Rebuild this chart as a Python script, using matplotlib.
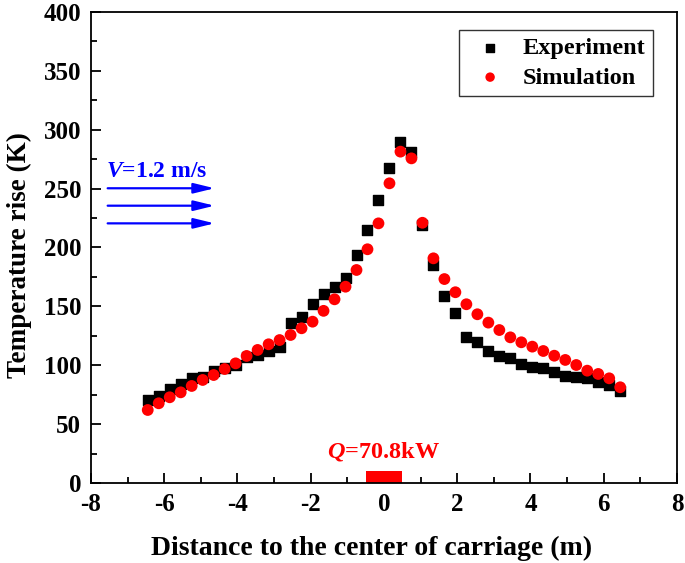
import matplotlib
matplotlib.use("Agg")
from matplotlib import pyplot as plt
from matplotlib.ticker import MultipleLocator

# distance to center of carriage (m)
distancia = [-6.45, -6.15, -5.85, -5.55, -5.25, -4.95, -4.65, -4.35, -4.05, -3.75, -3.45,
             -3.15, -2.85, -2.55, -2.25, -1.95, -1.65, -1.35, -1.05, -0.75, -0.45, -0.15,
             0.15, 0.45, 0.75, 1.05, 1.35, 1.65, 1.95, 2.25, 2.55, 2.85, 3.15, 3.45,
             3.75, 4.05, 4.35, 4.65, 4.95, 5.25, 5.55, 5.85, 6.15, 6.45]

experimento = [70.5, 73.9, 79.6, 84.1, 88.9, 90.3, 95.4, 97.4, 100.2, 107.3, 108.7,
               112.4, 115.8, 135.6, 140.7, 152.0, 160.5, 166.2, 173.8, 193.6, 214.9, 240.3,
               267.3, 289.9, 281.4, 219.1, 185.1, 158.6, 144.3, 124.2, 120.0, 112.4, 108.1, 106.4,
               101.1, 98.8, 97.4, 94.5, 91.1, 89.8, 88.9, 86.0, 83.2, 78.4]

simulacao = [62.0, 67.7, 72.8, 77.0, 82.4, 87.5, 91.7, 96.8, 101.6, 107.9, 113.0,
             117.8, 121.4, 125.7, 131.4, 137.0, 146.2, 156.0, 166.7, 180.9, 198.5, 220.5,
             254.5, 281.4, 275.7, 221.0, 190.8, 173.2, 162.0, 151.8, 143.3, 136.2, 129.9, 123.7,
             119.5, 115.8, 112.1, 108.1, 104.5, 100.2, 95.4, 92.6, 88.9, 81.3]

# fire source extent and height of the red block
fonte_x = [-0.5, 0.5]
fonte_altura = 10.5

# air-flow arrows
setas_y = [250.3, 235.5, 220.5]

plt.rcParams['font.family'] = ['Liberation Serif', 'DejaVu Serif']
plt.rcParams['font.weight'] = 'bold'
plt.rcParams['axes.unicode_minus'] = False
plt.rcParams['mathtext.fontset'] = 'custom'
plt.rcParams['mathtext.it'] = 'Liberation Serif:italic:bold'
plt.rcParams['mathtext.rm'] = 'Liberation Serif:bold'

fig = plt.figure(figsize=(6.85, 5.63), dpi=100)
ax = fig.add_axes([0.1328, 0.1421, 0.8555, 0.8366])

ax.scatter(distancia, experimento, marker='s', s=62, color='black', label='Experiment', zorder=3)
ax.scatter(distancia, simulacao, marker='o', s=72, color='red', edgecolors='none', label='Simulation', zorder=4)

ax.fill_between(fonte_x, 0, fonte_altura, color='red', linewidth=0, zorder=2)
ax.text(0, 17, r'$Q$=70.8kW', color='red', fontsize=17.5, ha='center', va='bottom', fontweight='bold')

for y in setas_y:
    ax.annotate('', xy=(-4.55, y), xytext=(-7.62, y),
                arrowprops=dict(arrowstyle='-|>,head_length=0.9,head_width=0.22',
                                color='blue', lw=1.6, mutation_scale=14))
ax.text(-7.6, 256, r'$V$=1.2 m/s', color='blue', fontsize=17, ha='left', va='bottom', fontweight='bold')

ax.set_xlim(-8, 8)
ax.set_ylim(0, 400)
ax.xaxis.set_major_locator(MultipleLocator(2))
ax.xaxis.set_minor_locator(MultipleLocator(1))
ax.yaxis.set_major_locator(MultipleLocator(50))
ax.yaxis.set_minor_locator(MultipleLocator(25))
ax.tick_params(which='both', direction='in', top=False, right=False, labelsize=18, pad=7)
ax.tick_params(which='major', length=7, width=1.3)
ax.tick_params(which='minor', length=4, width=1.3)
for lado in ax.spines.values():
    lado.set_linewidth(1.3)

ax.set_xlabel('Distance to the center of carriage (m)', fontsize=20, fontweight='bold')
ax.set_ylabel('Temperature rise (K)', fontsize=19.5, fontweight='bold')
ax.xaxis.set_label_coords(0.478, -0.113)
ax.yaxis.set_label_coords(-0.100, 0.484)

leg = ax.legend(loc='upper right', fontsize=17.5, frameon=True, fancybox=False,
                edgecolor='black', markerscale=0.8, handletextpad=0.35, borderpad=0.3,
                labelspacing=0.3, borderaxespad=0, bbox_to_anchor=(0.959, 0.962))
leg.get_frame().set_linewidth(1.0)

fig.savefig('out.png', dpi=100)
